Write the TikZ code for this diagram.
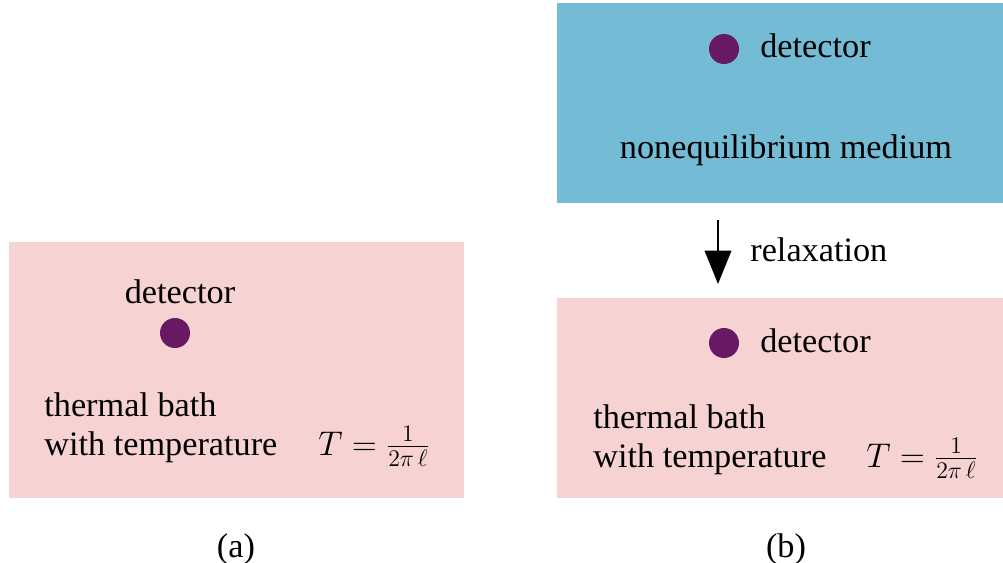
\documentclass[tikz,border=0pt]{standalone}
\usepackage{fontspec}
\setmainfont{Liberation Serif}
\usepackage{amsmath}
\usepackage{tikz}
\usetikzlibrary{arrows.meta, positioning, calc}
\definecolor{bathpink}{RGB}{247,210,211}
\definecolor{mediumblue}{RGB}{116,187,213}
\definecolor{dotpurple}{RGB}{103,25,100}
\newcommand{\bathtemp}{\scalebox{0.94}{$T=\frac{1}{2\pi\,\ell}$}}
\tikzset{
  bathbox/.style={rectangle, fill=bathpink, anchor=north west, inner sep=0pt},
  mediumbox/.style={rectangle, fill=mediumblue, anchor=north west, inner sep=0pt},
  detdot/.style={circle, fill=dotpurple, minimum size=0.6cm, inner sep=0pt},
  lbl/.style={inner sep=0pt, font=\fontsize{19.5}{23}\selectfont},
  formula/.style={inner sep=0pt, anchor=base west, font=\fontsize{19.5}{23}\selectfont},
  relaxarrow/.style={-{Triangle[width=15pt,length=19pt]}, line width=1.5pt, color=black}
}

\begin{document}
\begin{tikzpicture}[x=0.02cm, y=-0.02cm]
  \useasboundingbox (0,0) rectangle (1003,562);

  % (a) thermal bath
  \node[bathbox, minimum width=9.1cm, minimum height=5.12cm] (bathA) at (9,242) {};
  \node[lbl, anchor=base] (detlblA) at (180,303) {detector};
  \node[detdot] (dotA) at (175,333) {};
  \node[lbl, anchor=base west] (thermA) at (44,416) {thermal bath};
  \node[lbl, anchor=base west] (withA) at (44,455) {with temperature};
  \node[formula] (tempA) at (318,455) {\bathtemp};

  % (b) nonequilibrium medium
  \node[mediumbox, minimum width=8.92cm, minimum height=4.0cm] (medium) at (557,3) {};
  \node[detdot] (dotB) at (724,49) {};
  \node[lbl, anchor=base west] (detlblB) at (760,57) {detector};
  \node[lbl, anchor=base] (medlbl) at (786,158) {nonequilibrium medium};

  % relaxation
  \coordinate (arrtop) at (718,220);
  \coordinate (arrtip) at (718,284);
  \draw[relaxarrow] (arrtop) -- (arrtip);
  \node[lbl, anchor=base west] (relax) at (750,261) {relaxation};

  % (b) thermal bath
  \node[bathbox, minimum width=8.92cm, minimum height=4.0cm] (bathB) at (557,298) {};
  \node[detdot] (dotC) at (724,343) {};
  \node[lbl, anchor=base west] (detlblC) at (760,352) {detector};
  \node[lbl, anchor=base west] (thermB) at (593,428) {thermal bath};
  \node[lbl, anchor=base west] (withB) at (593,467) {with temperature};
  \node[formula] (tempB) at (866,467) {\bathtemp};

  % Captions
  \node[lbl, anchor=base] (capA) at (236,557) {(a)};
  \node[lbl, anchor=base] (capB) at (786,557) {(b)};
\end{tikzpicture}
\end{document}
